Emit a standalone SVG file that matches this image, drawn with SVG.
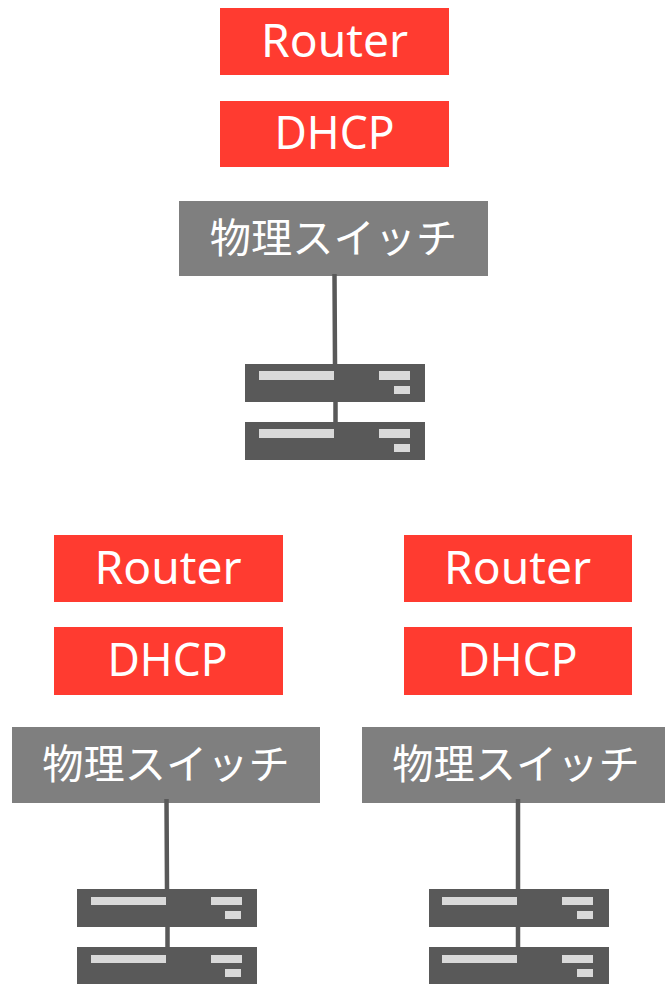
<svg xmlns="http://www.w3.org/2000/svg" width="665" height="984" viewBox="0 0 665 984">
<style>
.r{fill:#ff3b30}.g{fill:#7f7f7f}.d{fill:#595959}.l{fill:#d9d9d9}
text{font-family:"Noto Sans","Open Sans","Noto Sans CJK JP",sans-serif;font-size:46px;fill:#fff;text-anchor:middle}
.j{font-family:"Noto Sans CJK JP","Open Sans",sans-serif;font-size:41.250px}
.c{stroke:#595959;stroke-width:4.500;fill:none}
</style>
<defs>
<g id="srv"><rect class="d" width="180" height="38"/><rect class="l" x="14" y="7" width="75" height="9"/><rect class="l" x="134" y="7" width="31" height="9"/><rect class="l" x="149" y="22" width="16" height="8"/></g>
<g id="srv2"><rect class="d" width="180" height="38"/><rect class="l" x="14" y="8" width="75" height="8"/><rect class="l" x="134" y="8" width="31" height="8"/><rect class="l" x="148" y="22" width="16" height="8"/></g>
<g id="srv3"><rect class="d" width="180" height="38"/><rect class="l" x="13" y="8" width="75" height="8"/><rect class="l" x="133" y="8" width="31" height="8"/><rect class="l" x="148" y="22" width="16" height="8"/></g>
</defs>
<g id="router1"><rect class="r" x="220" y="8" width="229" height="67"/><text x="334.500" y="57" textLength="147" lengthAdjust="spacingAndGlyphs">Router</text></g>
<g id="dhcp1"><rect class="r" x="220" y="101" width="229" height="66"/><text x="334.500" y="149" textLength="120" lengthAdjust="spacingAndGlyphs">DHCP</text></g>
<g id="switch1"><rect class="g" x="179" y="201" width="309" height="75"/><text class="j" x="333.500" y="253">物理スイッチ</text></g>
<g id="server1a"><use href="#srv" x="245" y="364"/></g>
<g id="server1b"><use href="#srv" x="245" y="422"/></g>
<g id="router2"><rect class="r" x="54" y="535" width="229" height="67"/><text x="168" y="584" textLength="147" lengthAdjust="spacingAndGlyphs">Router</text></g>
<g id="dhcp2"><rect class="r" x="54" y="627" width="229" height="68"/><text x="167.500" y="676" textLength="120" lengthAdjust="spacingAndGlyphs">DHCP</text></g>
<g id="switch2"><rect class="g" x="12" y="727" width="308" height="76"/><text class="j" x="166" y="779">物理スイッチ</text></g>
<g id="server2a"><use href="#srv2" x="77" y="889"/></g>
<g id="server2b"><use href="#srv2" x="77" y="947"/></g>
<g id="router3"><rect class="r" x="404" y="535" width="228" height="67"/><text x="517.500" y="584" textLength="147" lengthAdjust="spacingAndGlyphs">Router</text></g>
<g id="dhcp3"><rect class="r" x="404" y="627" width="228" height="68"/><text x="517.500" y="676" textLength="120" lengthAdjust="spacingAndGlyphs">DHCP</text></g>
<g id="switch3"><rect class="g" x="362" y="727" width="303" height="76"/><text class="j" x="516" y="779">物理スイッチ</text></g>
<g id="server3a"><use href="#srv3" x="429" y="889"/></g>
<g id="server3b"><use href="#srv3" x="429" y="947"/></g>
<g id="connectors">
<path class="c" d="M334.500 274L335 364M335.500 402V422M166.500 799L167 889M167.500 927V947M518 799V889M518 927V947"/>
</g>
</svg>
